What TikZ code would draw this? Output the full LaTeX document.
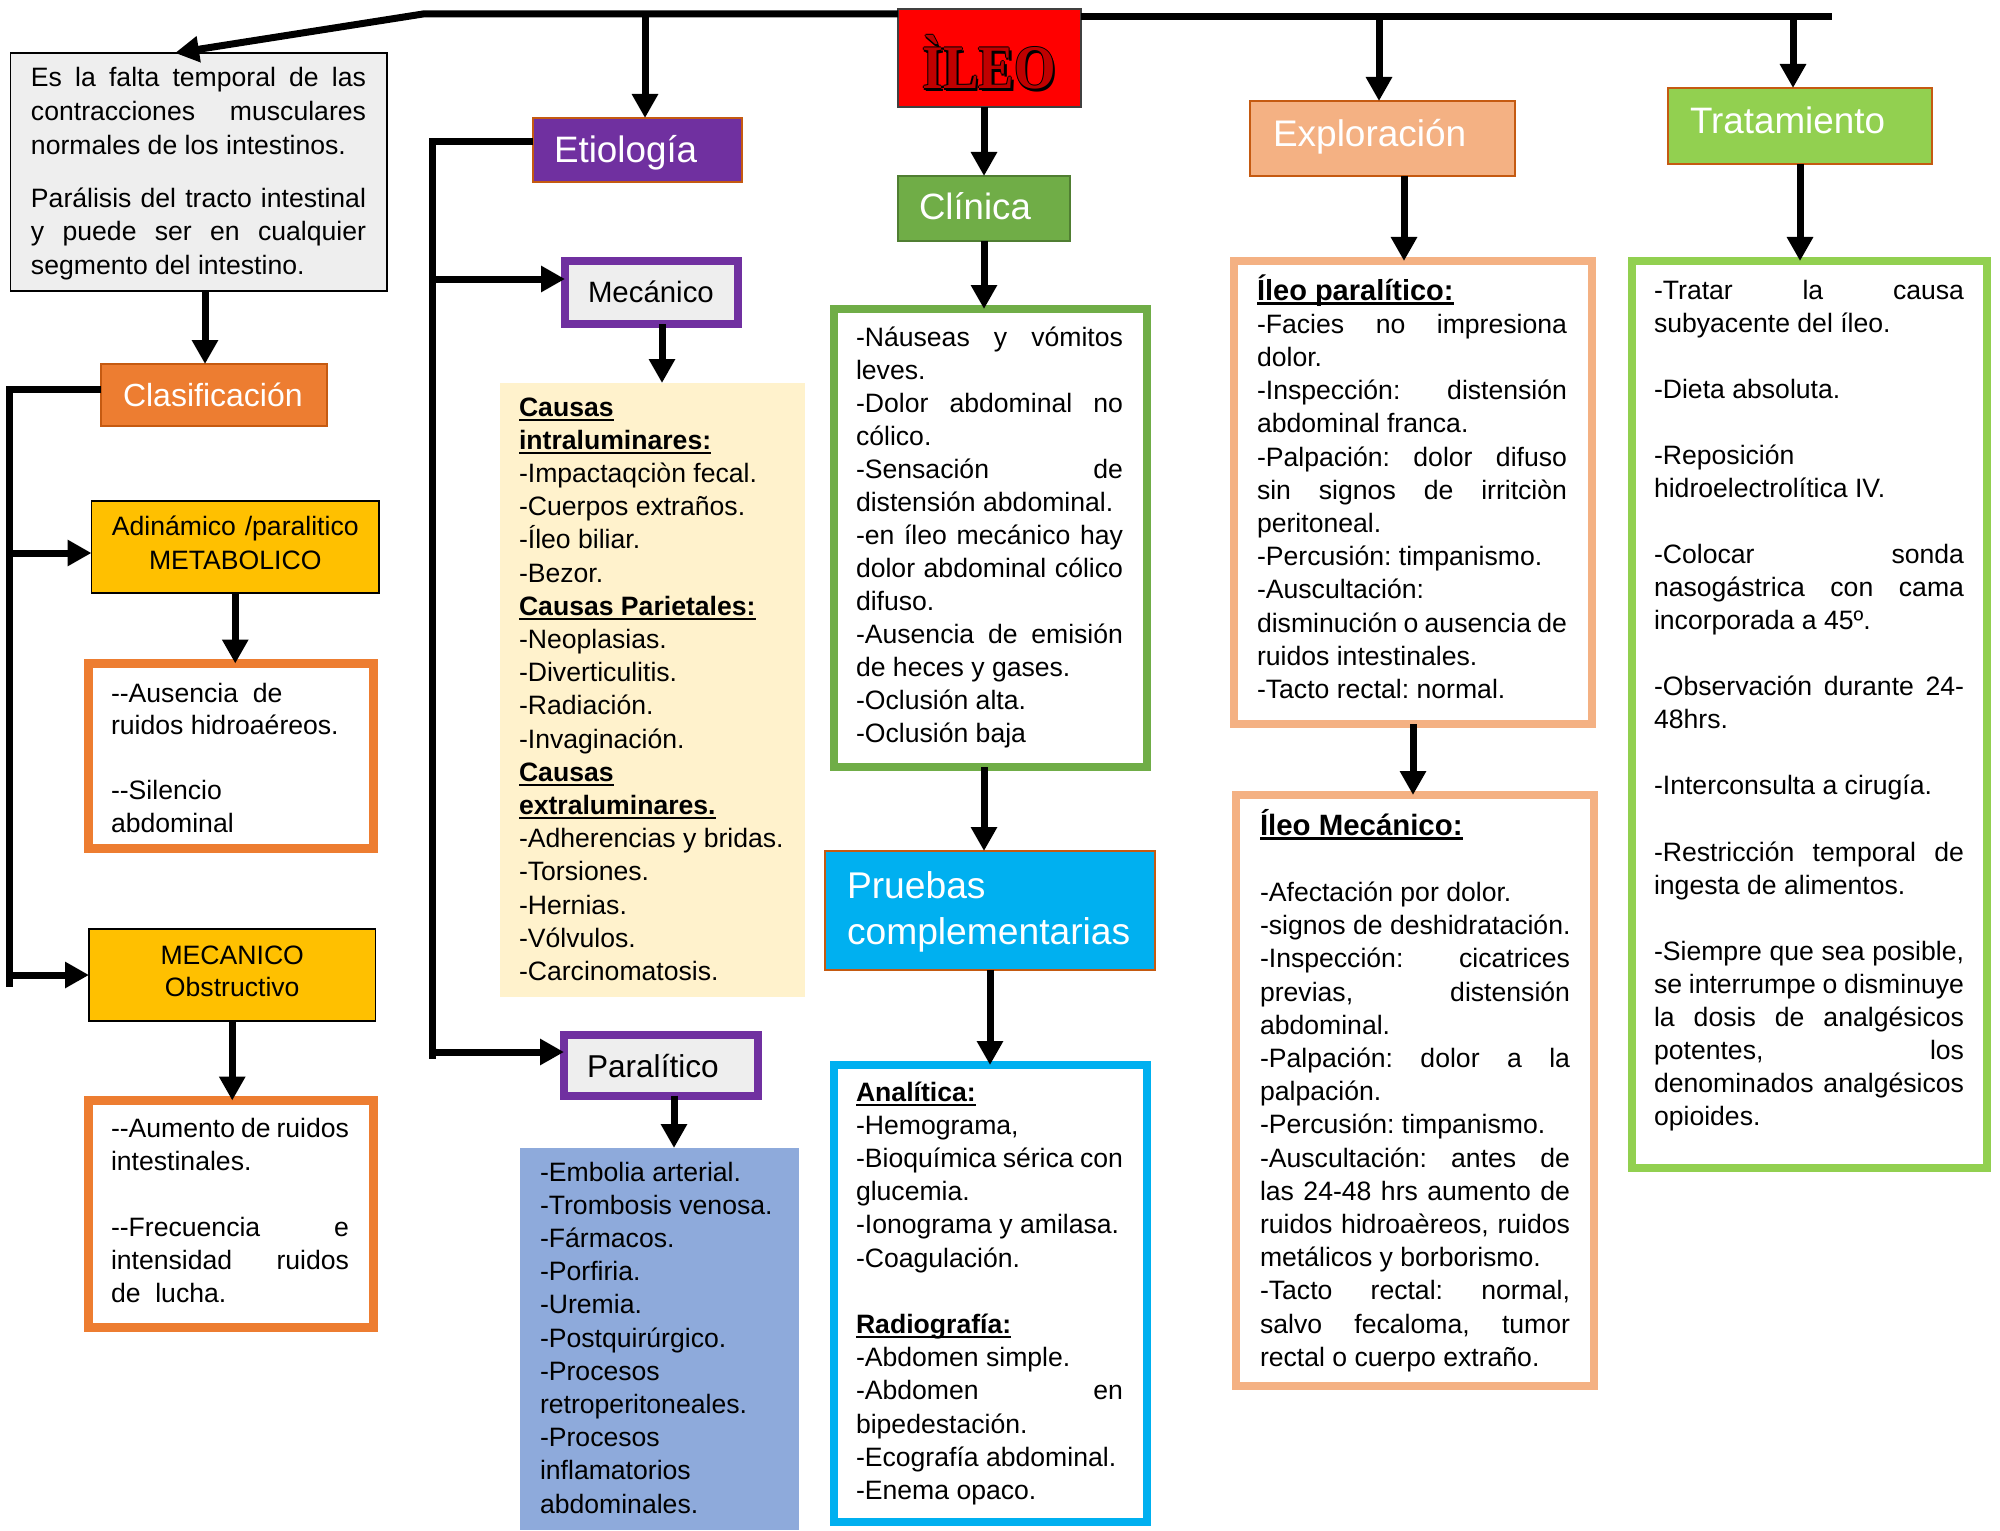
\documentclass[tikz,border=0pt]{standalone}
\usepackage{fontspec}
\setmainfont{Liberation Sans}
\newfontfamily\ileofont{Liberation Serif}
\usepackage{graphicx}
\usetikzlibrary{arrows.meta,fit,calc}
\definecolor{defgray}{HTML}{EEEEEE}
\definecolor{ileored}{HTML}{C00000}
\definecolor{ileoborder}{HTML}{404040}
\definecolor{purp}{HTML}{7030A0}
\definecolor{brownb}{HTML}{C55A11}
\definecolor{clingreen}{HTML}{70AD47}
\definecolor{clinb}{HTML}{507E32}
\definecolor{peach}{HTML}{F4B183}
\definecolor{lime}{HTML}{92D050}
\definecolor{orng}{HTML}{ED7D31}
\definecolor{gold}{HTML}{FFC000}
\definecolor{cream}{HTML}{FFF2CC}
\definecolor{peri}{HTML}{8EAADB}
\definecolor{cyanb}{HTML}{00B0F0}
\newcommand\bodyfs{\fontsize{13.3pt}{16.6pt}\selectfont}
\newcommand\rs{\spaceskip=0pt\xspaceskip=0pt\frenchspacing}
\newcommand\jl[1]{\makebox[\dimexpr\hsize-6pt\relax][s]{\rs #1}}
\newcommand\hul[2][1pt]{\leavevmode\setbox0=\hbox{#2}\rlap{\rule[-2.4pt]{\wd0}{#1}}\box0}
\newcommand\dd{-\kern0pt-}
\newcommand\ileoTxt{\ileofont\bfseries\fontsize{31pt}{31pt}\selectfont\scalebox{0.86}[1]{ÌLEO}}
\begin{document}
\hyphenpenalty=10000
\exhyphenpenalty=10000
\frenchspacing
\begin{tikzpicture}[x=0.5pt,y=-0.5pt,
  ln/.style={line width=3.5pt, line join=miter},
  arr/.style={line width=3.5pt, line join=miter, -{Triangle[length=12pt,width=12.5pt]}},
  frm/.style={inner sep=0pt, outer sep=0pt, rectangle},
  txt/.style={inner sep=0pt, outer sep=0pt, anchor=base west, align=left, font=\bodyfs},
  ttl/.style={inner sep=0pt, outer sep=0pt, anchor=base west, text=white},
  ileoback/.style={anchor=base, inner sep=0pt, text=black}]
\useasboundingbox (0,0) rectangle (2000,1530);

% ---------- frames ----------
\node[frm, fit={(10.5,53)(387,291)}, draw=black, line width=0.75pt, fill=defgray] (def) {};
\node[frm, fit={(898,9)(1081,107)}, draw=ileoborder, line width=1pt, fill=red] (ileo) {};
\node[frm, fit={(533,118)(742,182)}, draw=brownb, line width=1pt, fill=purp] (etio) {};
\node[frm, fit={(898,176)(1070,241)}, draw=clinb, line width=1pt, fill=clingreen] (clin) {};
\node[frm, fit={(1250,101)(1515,176)}, draw=brownb, line width=1pt, fill=peach] (expl) {};
\node[frm, fit={(1668,88)(1932,164)}, draw=brownb, line width=1pt, fill=lime] (trat) {};
\node[frm, fit={(101,364)(327,426)}, draw=brownb, line width=1pt, fill=orng] (clasif) {};
\node[frm, fit={(91.5,501)(379,593)}, draw=black, line width=0.75pt, fill=gold] (adin) {};
\node[frm, fit={(89,929)(375.5,1021)}, draw=black, line width=0.75pt, fill=gold] (mecO) {};
\node[frm, fit={(88.5,663.5)(373.5,848.5)}, draw=orng, line width=4.5pt, fill=white] (aus) {};
\node[frm, fit={(88.5,1100.5)(373.5,1327.5)}, draw=orng, line width=4.5pt, fill=white] (aum) {};
\node[frm, fit={(565,261)(738,324)}, draw=purp, line width=4pt, fill=defgray] (mecan) {};
\node[frm, fit={(564,1034.6)(757.5,1095.7)}, draw=purp, line width=4pt, fill=defgray] (paral) {};
\node[frm, fit={(500,383)(805,997)}, fill=cream] (causas) {};
\node[frm, fit={(520,1148)(799,1530)}, fill=peri] (blue) {};
\node[frm, fit={(833.5,309)(1147,767)}, draw=clingreen, line width=4pt, fill=white] (clist) {};
\node[frm, fit={(825,851)(1155,970)}, draw=brownb, line width=1pt, fill=cyanb] (pru) {};
\node[frm, fit={(833.5,1065)(1147,1522)}, draw=cyanb, line width=4pt, fill=white] (anal) {};
\node[frm, fit={(1234,261)(1592,724)}, draw=peach, line width=4pt, fill=white] (pbox) {};
\node[frm, fit={(1236,795)(1594,1386)}, draw=peach, line width=4pt, fill=white] (mbox) {};
\node[frm, fit={(1632,261)(1987,1168)}, draw=lime, line width=4pt, fill=white] (tlist) {};

% ---------- titles ----------
\node[ileoback] (ileoS) at (991.5,91.5) {\ileoTxt};
\node[ileoback] (ileoO1) at (990.2,89) {\ileoTxt};
\node[ileoback] (ileoO2) at (987.8,89) {\ileoTxt};
\node[ileoback] (ileoO3) at (989,90.2) {\ileoTxt};
\node[ileoback] (ileoO4) at (989,87.8) {\ileoTxt};
\node[anchor=base, inner sep=0pt, text=ileored] (ileoT) at (989,89) {\ileoTxt};
\node[ttl, font=\fontsize{18.4pt}{20pt}\selectfont] (etioT) at (554,163) {Etiología};
\node[ttl, font=\fontsize{18.3pt}{20pt}\selectfont] (clinT) at (919,220) {Clínica};
\node[ttl, font=\fontsize{18.5pt}{20pt}\selectfont] (explT) at (1273,147) {Exploración};
\node[ttl, font=\fontsize{18.4pt}{20pt}\selectfont] (tratT) at (1690,134) {Tratamiento};
\node[ttl, font=\fontsize{16pt}{18pt}\selectfont] (clasT) at (123,406) {Clasificación};
\node[ttl, text=black, font=\fontsize{14.7pt}{17pt}\selectfont] (mecanT) at (588,302) {Mecánico};
\node[ttl, text=black, font=\fontsize{15.8pt}{18pt}\selectfont] (paralT) at (587,1077) {Paralítico};
\node[ttl, text width=160pt, align=left, font=\fontsize{18.6pt}{23pt}\selectfont] (pruT) at (847,898) {\rs Pruebas\\complementarias};

% ---------- texts ----------
\node[txt, text width=173.5pt, font=\fontsize{13.3pt}{16.85pt}\selectfont] (defT) at (31,87) {\rs
\jl{Es la falta temporal de las}\\
\jl{contracciones musculares}\\
normales de los intestinos.\\[9.6pt]
\jl{Parálisis del tracto intestinal}\\
\jl{y puede ser en cualquier}\\
segmento del intestino.};

\node[txt, anchor=base, text width=143.75pt, align=center, font=\fontsize{13.3pt}{17pt}\selectfont] (adinT) at (235.25,535) {\rs Adinámico /paralitico\\METABOLICO};
\node[txt, anchor=base, text width=143.25pt, align=center, font=\fontsize{13.3pt}{16pt}\selectfont] (mecOT) at (232.25,964) {\rs MECANICO\\Obstructivo};

\node[txt, text width=128pt, font=\fontsize{13.3pt}{16.25pt}\selectfont] (ausT) at (111,702) {\rs
\dd Ausencia\ \ de\\
ruidos hidroaéreos.\\[16.25pt]
\dd Silencio\\
abdominal};

\node[txt, text width=125pt, font=\fontsize{13.3pt}{16.5pt}\selectfont] (aumT) at (111,1137) {\rs
\jl{\dd Aumento de ruidos}\\
intestinales.\\[16.5pt]
\jl{\dd Frecuencia e}\\
\jl{intensidad ruidos}\\
de\ \ lucha.};

\node[txt, text width=140pt] (causasT) at (519,416) {\rs
\textbf{\hul{Causas}}\\
\textbf{\hul{intraluminares:}}\\
-Impactaqciòn fecal.\\
-Cuerpos extraños.\\
-Íleo biliar.\\
-Bezor.\\
\textbf{\hul{Causas Parietales:}}\\
-Neoplasias.\\
-Diverticulitis.\\
-Radiación.\\
-Invaginación.\\
\textbf{\hul{Causas}}\\
\textbf{\hul{extraluminares.}}\\
-Adherencias y bridas.\\
-Torsiones.\\
-Hernias.\\
-Vólvulos.\\
-Carcinomatosis.};

\node[txt, text width=130pt] (blueT) at (540,1181) {\rs
-Embolia arterial.\\
-Trombosis venosa.\\
-Fármacos.\\
-Porfiria.\\
-Uremia.\\
-Postquirúrgico.\\
-Procesos\\
retroperitoneales.\\
-Procesos\\
inflamatorios\\
abdominales.};

\node[txt, text width=139.5pt, font=\fontsize{13.3pt}{16.5pt}\selectfont] (clistT) at (856,346) {\rs
\jl{-Náuseas y vómitos}\\
leves.\\
\jl{-Dolor abdominal no}\\
cólico.\\
\jl{-Sensación de}\\
distensión abdominal.\\
\jl{-en íleo mecánico hay}\\
\jl{dolor abdominal cólico}\\
difuso.\\
\jl{-Ausencia de emisión}\\
de heces y gases.\\
-Oclusión alta.\\
-Oclusión baja};

\node[txt, text width=139.5pt] (analT) at (856,1101) {\rs
\textbf{\hul{Analítica:}}\\
-Hemograma,\\
\jl{-Bioquímica sérica con}\\
glucemia.\\
-Ionograma y amilasa.\\
-Coagulación.\\[16.6pt]
\textbf{\hul{Radiografía:}}\\
-Abdomen simple.\\
\jl{-Abdomen en}\\
bipedestación.\\
-Ecografía abdominal.\\
-Enema opaco.};

\node[txt, text width=161pt] (pboxT) at (1257,300) {\rs
{\fontsize{14.5pt}{16.6pt}\selectfont\bfseries\hul[1.2pt]{Íleo paralítico:}}\\
\jl{-Facies no impresiona}\\
dolor.\\
\jl{-Inspección: distensión}\\
abdominal franca.\\
\jl{-Palpación: dolor difuso}\\
\jl{sin signos de irritciòn}\\
peritoneal.\\
-Percusión: timpanismo.\\
-Auscultación:\\
\jl{disminución o ausencia de}\\
ruidos intestinales.\\
-Tacto rectal: normal.};

\node[txt, text width=161pt] (mboxT) at (1260,835) {\rs
{\fontsize{14.7pt}{16.6pt}\selectfont\bfseries\hul[1.2pt]{Íleo Mecánico:}}\\[16.6pt]
-Afectación por dolor.\\
-signos de deshidratación.\\
\jl{-Inspección: cicatrices}\\
\jl{previas, distensión}\\
abdominal.\\
\jl{-Palpación: dolor a la}\\
palpación.\\
-Percusión: timpanismo.\\
\jl{-Auscultación: antes de}\\
\jl{las 24-48 hrs aumento de}\\
\jl{ruidos hidroaèreos, ruidos}\\
metálicos y borborismo.\\
\jl{-Tacto rectal: normal,}\\
\jl{salvo fecaloma, tumor}\\
rectal o cuerpo extraño.};

\node[txt, text width=161pt, font=\fontsize{13.3pt}{16.53pt}\selectfont] (tlistT) at (1654,299) {\rs
\jl{-Tratar la causa}\\
subyacente del íleo.\\[16.53pt]
-Dieta absoluta.\\[16.53pt]
-Reposición\\
hidroelectrolítica IV.\\[16.53pt]
\jl{-Colocar sonda}\\
\jl{nasogástrica con cama}\\
incorporada a 45º.\\[16.53pt]
\jl{-Observación durante 24-}\\
48hrs.\\[16.53pt]
-Interconsulta a cirugía.\\[16.53pt]
\jl{-Restricción temporal de}\\
ingesta de alimentos.\\[16.53pt]
\jl{-Siempre que sea posible,}\\
\jl{se interrumpe o disminuye}\\
\jl{la dosis de analgésicos}\\
\jl{potentes, los}\\
\jl{denominados analgésicos}\\
opioides.};

% ---------- connectors ----------
\coordinate (jL) at (423,14);
\coordinate (jR) at (1832,17);
\coordinate (dTip) at ($(def.north west)+(164.5,0)$);
\draw[arr] (jL -| ileo.west) -- (jL) -- (dTip);
\draw[ln] (jR -| ileo.east) -- (jR);
\coordinate (eA) at ($(etio.north)+(7.5,0)$);
\draw[arr] (eA |- jL) -- (eA);
\coordinate (xA) at ($(expl.north)+(-3.5,0)$);
\draw[arr] (xA |- jR) -- (xA);
\coordinate (tA) at ($(trat.north)+(-7,0)$);
\draw[arr] (tA |- jR) -- (tA);
\draw[arr] (clin.north |- ileo.south) -- (clin.north);
\draw[arr] (clin.south) -- (clin.south |- clist.north);
\draw[arr] (clin.south |- clist.south) -- (clin.south |- pru.north);
\draw[arr] (pru.south) -- (pru.south |- anal.north);
\coordinate (pA) at ($(expl.south)+(21.5,0)$);
\draw[arr] (pA) -- (pA |- pbox.north);
\draw[arr] (pbox.south) -- (pbox.south |- mbox.north);
\draw[arr] (trat.south) -- (trat.south |- tlist.north);

\coordinate (dA) at ($(clasif.north west)+(104,0)$);
\draw[arr] (dA |- def.south) -- (dA);
\coordinate (cT) at (9.5,389);
\coordinate (cB) at (9.5,987);
\coordinate (a553) at (0,553);
\draw[ln] (cT -| clasif.west) -- (cT) -- (cB);
\draw[arr] (cT |- a553) -- (adin.west |- a553);
\draw[arr] (cT |- mecO.west) -- (mecO.west);
\draw[arr] (adin.south) -- (adin.south |- aus.north);
\draw[arr] (mecO.south) -- (mecO.south |- aum.north);

\coordinate (eT) at (432,142);
\coordinate (eB) at (432,1059);
\coordinate (m279) at (0,279);
\coordinate (p1052) at (0,1052);
\draw[ln] (eT -| etio.west) -- (eT) -- (eB);
\draw[arr] (eT |- m279) -- (mecan.west |- m279);
\draw[arr] (eT |- p1052) -- (paral.west |- p1052);
\coordinate (cA) at ($(causas.north west)+(162,0)$);
\draw[arr] (cA |- mecan.south) -- (cA);
\coordinate (bA) at ($(blue.north west)+(154,0)$);
\draw[arr] (bA |- paral.south) -- (bA);
\end{tikzpicture}
\end{document}
